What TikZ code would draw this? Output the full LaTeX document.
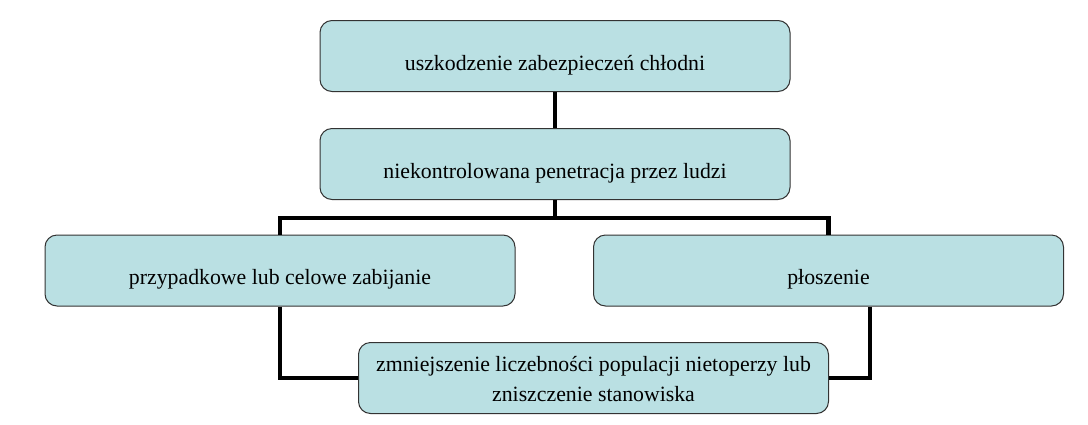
\documentclass[tikz,border=0pt]{standalone}
\usepackage{fontspec}
\setmainfont{Liberation Serif}
\definecolor{boxfill}{RGB}{186,224,227}
\begin{document}
\begin{tikzpicture}[x=1pt,y=-1pt,
    box/.style={draw=black!80,line width=1pt,fill=boxfill,rounded corners=12pt,
      minimum width=470pt,minimum height=71pt,align=center,inner sep=0pt,
      text height=28pt,text depth=0pt,
      font=\fontsize{21.8}{30}\selectfont},
    twoline/.style={text height=46pt,text depth=0pt},
    link/.style={line width=4.5pt}]
  \useasboundingbox (0,0) rectangle (1088,424);
  \node[box] (damage) at (555,56) {uszkodzenie zabezpieczeń chłodni};
  \node[box] (people) at (555,164) {niekontrolowana penetracja przez ludzi};
  \node[box] (killing) at (280,270.5) {przypadkowe lub celowe zabijanie};
  \node[box] (scaring) at (828.5,270.5) {płoszenie};
  \node[box,twoline] (decline) at (593.5,378) {zmniejszenie liczebności populacji nietoperzy lub\\zniszczenie stanowiska};
  \coordinate (fork) at (555,218);
  \draw[link] (damage) -- (people);
  \draw[link] (people) -- (fork);
  \draw[link] (killing.north) |- (fork) -| (scaring.north);
  \draw[link] (killing.south) |- (decline.west);
  \draw[link] ([xshift=41.5pt]scaring.south) |- (decline.east);
\end{tikzpicture}
\end{document}
